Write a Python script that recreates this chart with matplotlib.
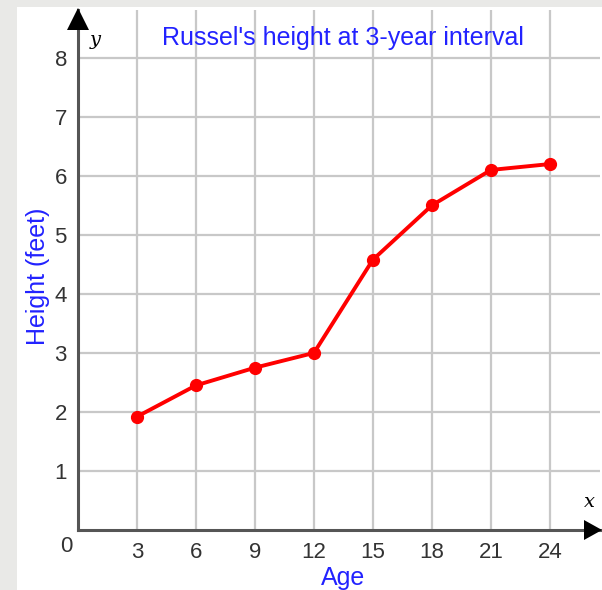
import matplotlib.pyplot as plt
from matplotlib.patches import Rectangle, Polygon

# Russel's height every 3 years
ages = [3, 6, 9, 12, 15, 18, 21, 24]
heights = [1.92, 2.45, 2.75, 3.0, 4.58, 5.5, 6.1, 6.2]
yticks = [1, 2, 3, 4, 5, 6, 7, 8]

plt.rcParams['font.family'] = ['Liberation Sans', 'DejaVu Sans']

W, H = 602, 590
fig = plt.figure(figsize=(W / 100, H / 100), dpi=100, facecolor='#e9e9e7')

# white panel over the gray page
fig.patches.append(Rectangle((17 / W, 0), 1, 1 - 7 / H, transform=fig.transFigure,
                             facecolor='white', edgecolor='none', zorder=-5))

ax = fig.add_axes([78 / W, 60 / H, (600 - 78) / W, (530 - 10) / H])
ax.set_facecolor('white')
ax.set_xlim(0, 26.55)
ax.set_ylim(0, 8.81)

ax.set_xticks(ages)
ax.set_yticks(yticks)
ax.grid(True, color='#c8c8c8', linewidth=1.6)
ax.tick_params(length=0, labelsize=16, labelcolor='#333333')
ax.tick_params(axis='x', pad=9)
ax.tick_params(axis='y', pad=8)

for s in ['top', 'right']:
    ax.spines[s].set_visible(False)
for s in ['left', 'bottom']:
    ax.spines[s].set_color('#555555')
    ax.spines[s].set_linewidth(2.2)
    ax.spines[s].set_zorder(5)

ax.plot(ages, heights, color='#ff0000', linewidth=2.8, marker='o', markersize=8.5,
        zorder=6, clip_on=False)

# origin label
fig.text(66 / W, 1 - 547 / H, '0', ha='center', va='center', fontsize=16, color='#333333')

# arrow heads on the axes
px = lambda x, y: fig.transFigure.inverted().transform((x, H - y))
fig.patches.append(Polygon([px(78, 8), px(67, 30), px(89, 30)], closed=True,
                           transform=fig.transFigure, facecolor='black', zorder=10))
fig.patches.append(Polygon([px(602, 530), px(584, 520), px(584, 540)], closed=True,
                           transform=fig.transFigure, facecolor='black', zorder=10))

fig.text(95 / W, 1 - 40 / H, 'y', fontsize=14, style='italic', family='DejaVu Serif',
         ha='center', va='center', zorder=10)
fig.text(589 / W, 1 - 502 / H, 'x', fontsize=14, style='italic', family='DejaVu Serif',
         ha='center', va='center', zorder=10)

fig.text(343 / W, 1 - 38 / H, "Russel's height at 3-year interval", fontsize=18,
         color='#2222ff', ha='center', va='center', zorder=10)
fig.text(343 / W, 1 - 578 / H, 'Age', fontsize=18, color='#2222ff',
         ha='center', va='center')
fig.text(38 / W, 1 - 276 / H, 'Height (feet)', fontsize=18, color='#2222ff',
         ha='center', va='center', rotation=90)

fig.savefig('out.png', dpi=100, facecolor=fig.get_facecolor())
